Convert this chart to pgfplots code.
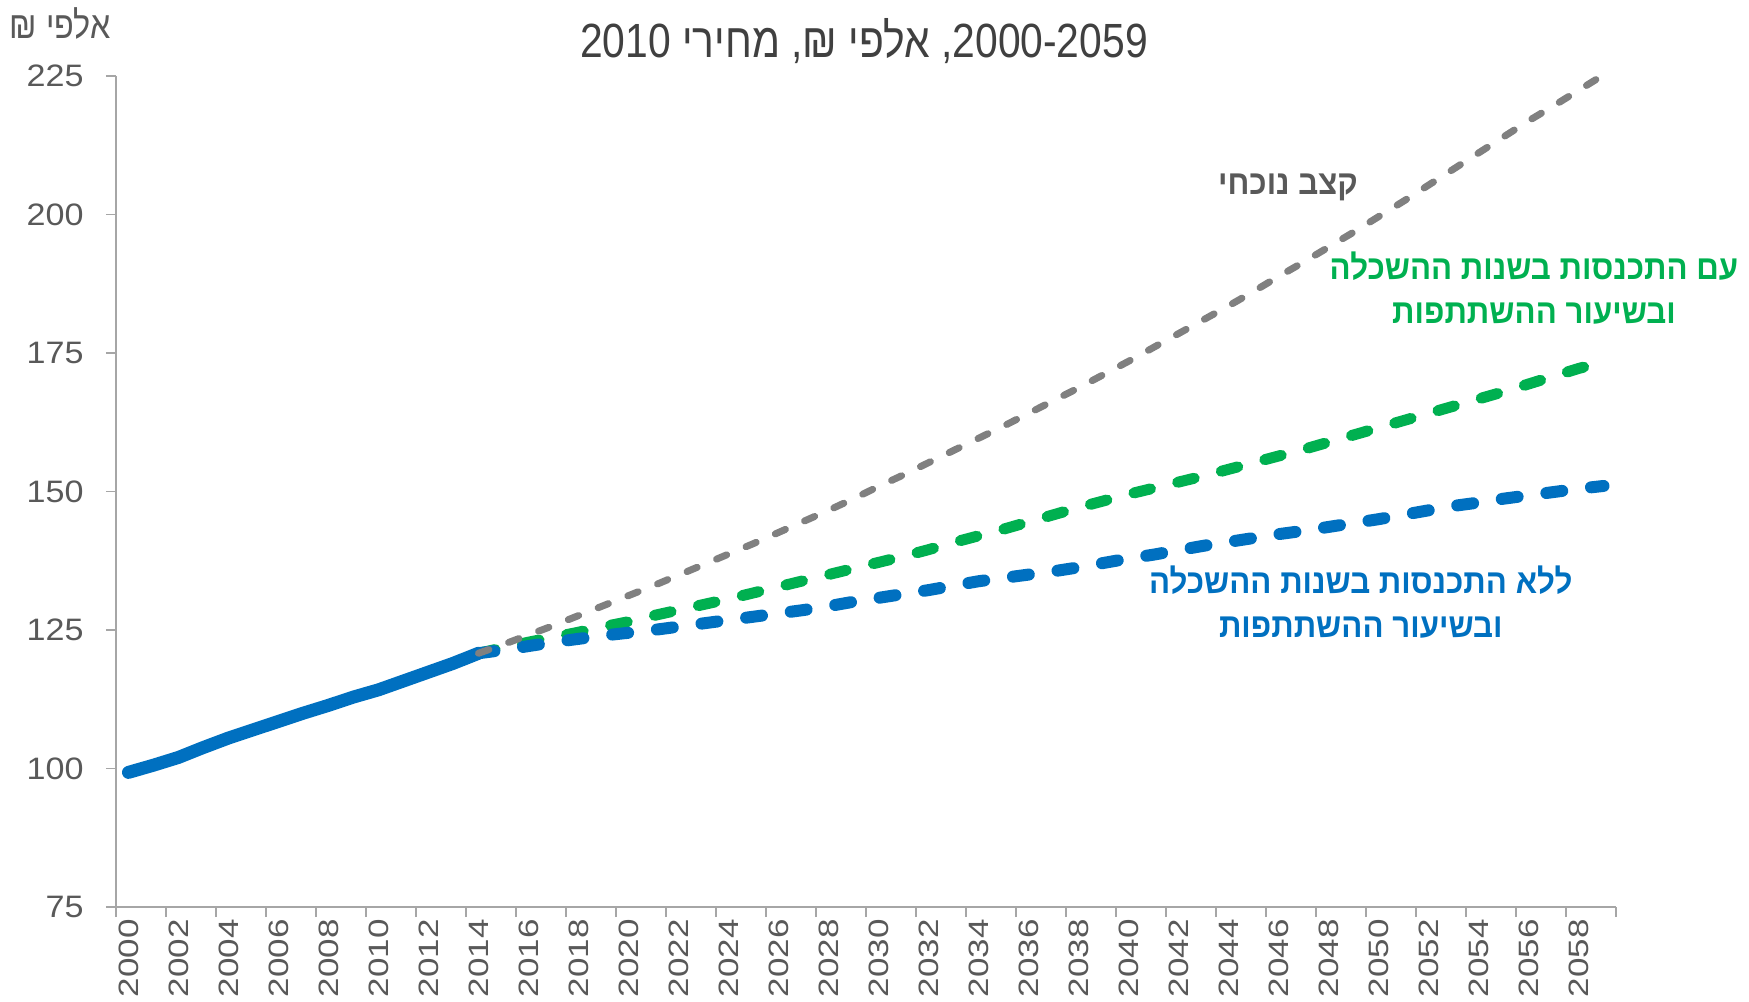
\documentclass[border=0pt]{standalone}
\usepackage{fontspec}
\usepackage{pgfplots}
\pgfplotsset{compat=1.18}
\setmainfont{Liberation Sans}
\newfontfamily\heb[Script=Hebrew,FakeStretch=0.92]{Liberation Sans}
\newfontfamily\hebnarrow[Script=Hebrew,FakeStretch=0.85]{Liberation Sans}
\newfontfamily\ticky[FakeStretch=1.1]{Liberation Sans}
\newfontfamily\tickx[FakeStretch=1.25]{Liberation Sans}
\TeXXeTstate=1
\definecolor{cblue}{HTML}{0070C0}
\definecolor{cgreen}{HTML}{00B050}
\definecolor{cgray}{HTML}{808080}
\definecolor{txtgray}{HTML}{595959}
\definecolor{titlegray}{HTML}{404040}
\definecolor{axisgray}{HTML}{A6A6A6}
\begin{document}
\begin{tikzpicture}
\useasboundingbox (-58bp,-47.5bp) rectangle (816.5bp,453.5bp);
\begin{axis}[
  at={(0,0)}, anchor=south west,
  scale only axis, width=750bp, height=415.5bp,
  xmin=1999.5, xmax=2059.5, ymin=75, ymax=225,
  clip=false,
  axis lines=left,
  axis line style={-, draw=axisgray, line width=0.75bp},
  xtick={2000,2002,...,2058},
  minor xtick={1999.5,2001.5,...,2059.5},
  ytick={75,100,...,225},
  tick align=outside,
  major tick length=5bp, minor tick length=5bp,
  major x tick style={draw=none},
  minor x tick style={draw=axisgray, line width=0.75bp},
  y tick style={draw=axisgray, line width=0.75bp},
  xticklabel={\pgfmathparse{int(round(\tick))}\pgfmathresult},
  yticklabel={\pgfmathparse{int(round(\tick))}\pgfmathresult},
  xticklabel style={rotate=90, anchor=east, inner sep=1bp, text=txtgray,
    font=\tickx\fontsize{14bp}{14bp}\selectfont},
  yticklabel style={anchor=east, inner sep=1bp, xshift=-10bp, text=txtgray,
    font=\ticky\fontsize{15.5bp}{16bp}\selectfont},
]
% historic
\addplot[cblue, line width=6.5bp, line cap=round, line join=round] coordinates {
(2000,99.3) (2001,100.6) (2002,102.0) (2003,103.8) (2004,105.5) (2005,107.0)
(2006,108.5) (2007,110.0) (2008,111.4) (2009,112.9) (2010,114.2) (2011,115.8)
(2012,117.4) (2013,119.0) (2014,120.8)};
% with convergence (green)
\addplot[cgreen, line width=5.5bp, line cap=round, line join=round, dash pattern=on 8.5bp off 14bp] coordinates {
(2014,120.8) (2015,121.8) (2016,122.8) (2017,123.7) (2018,124.6) (2019,125.6)
(2020,126.5) (2021,127.6) (2022,128.6) (2023,129.6) (2024,130.6) (2025,131.7)
(2026,132.8) (2027,133.9) (2028,135.0) (2029,136.1) (2030,137.2) (2031,138.3)
(2032,139.5) (2033,140.8) (2034,142.0) (2035,143.2) (2036,144.5) (2037,145.8)
(2038,147.1) (2039,148.3) (2040,149.5) (2041,150.6) (2042,151.7) (2043,152.8)
(2044,154.0) (2045,155.2) (2046,156.4) (2047,157.6) (2048,158.9) (2049,160.2)
(2050,161.5) (2051,162.8) (2052,164.1) (2053,165.4) (2054,166.7) (2055,168.0)
(2056,169.4) (2057,170.8) (2058,172.2) (2059,173.4)};
% without convergence (blue dashed)
\addplot[cblue, line width=6bp, line cap=round, line join=round, dash pattern=on 8bp off 14.5bp] coordinates {
(2014,120.8) (2015,121.4) (2016,122.1) (2017,122.8) (2018,123.4) (2019,124.0)
(2020,124.5) (2021,125.0) (2022,125.6) (2023,126.2) (2024,126.8) (2025,127.4)
(2026,128.0) (2027,128.6) (2028,129.3) (2029,130.1) (2030,130.8) (2031,131.5)
(2032,132.2) (2033,133.0) (2034,133.8) (2035,134.4) (2036,135.0) (2037,135.6)
(2038,136.3) (2039,137.1) (2040,137.9) (2041,138.6) (2042,139.4) (2043,140.2)
(2044,140.9) (2045,141.6) (2046,142.3) (2047,142.9) (2048,143.6) (2049,144.3)
(2050,145.0) (2051,145.8) (2052,146.6) (2053,147.4) (2054,148.0) (2055,148.7)
(2056,149.3) (2057,149.9) (2058,150.5) (2059,151.0)};
% current rate (gray)
\addplot[cgray, line width=3.5bp, line cap=round, line join=round, dash pattern=on 5.5bp off 10.5bp] coordinates {
(2014,120.8) (2015,122.4) (2016,124.1) (2017,125.8) (2018,127.6) (2019,129.4)
(2020,131.2) (2021,133.0) (2022,134.9) (2023,136.8) (2024,138.7) (2025,140.6)
(2026,142.6) (2027,144.6) (2028,146.6) (2029,148.7) (2030,150.9) (2031,153.0)
(2032,155.2) (2033,157.4) (2034,159.6) (2035,161.8) (2036,164.1) (2037,166.4)
(2038,168.7) (2039,171.1) (2040,173.5) (2041,176.0) (2042,178.5) (2043,181.0)
(2044,183.5) (2045,186.1) (2046,188.8) (2047,191.4) (2048,194.1) (2049,196.8)
(2050,199.6) (2051,202.4) (2052,205.3) (2053,208.2) (2054,211.1) (2055,214.0)
(2056,216.9) (2057,219.6) (2058,222.4) (2059,225.2)};
\end{axis}
% title
\node[text=titlegray, font=\hebnarrow\fontsize{24bp}{26bp}\selectfont] at (374bp,433bp)
  {\beginR 2000-2059\kern0pt, אלפי ₪\kern0pt, מחירי 2010\endR};
% unit label
\node[text=txtgray, font=\hebnarrow\fontsize{19bp}{21bp}\selectfont] at (-28bp,442bp)
  {\beginR אלפי ₪\endR};
% annotations
\node[text=txtgray, font=\heb\bfseries\fontsize{17bp}{20bp}\selectfont] at (586bp,359.7bp)
  {\beginR קצב נוכחי\endR};
\node[text=cgreen, align=center, font=\heb\bfseries\fontsize{17bp}{22.3bp}\selectfont] at (709bp,309.5bp)
  {\beginR עם התכנסות בשנות ההשכלה\endR\\\beginR ובשיעור ההשתתפות\endR};
\node[text=cblue, align=center, font=\heb\bfseries\fontsize{17bp}{22.3bp}\selectfont] at (622.4bp,152.5bp)
  {\beginR ללא התכנסות בשנות ההשכלה\endR\\\beginR ובשיעור ההשתתפות\endR};
\end{tikzpicture}
\end{document}
